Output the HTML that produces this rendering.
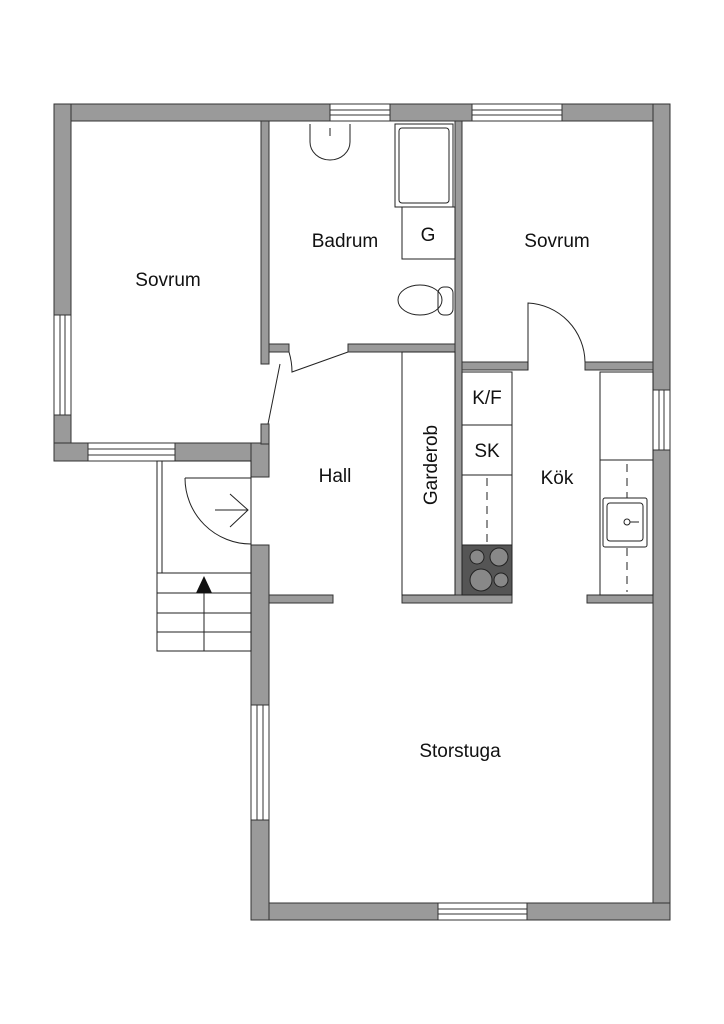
<!DOCTYPE html>
<html><head><style>body{margin:0;background:#fff}svg{display:block}text{font-family:"Liberation Sans",sans-serif;fill:#111}</style></head><body>
<svg width="724" height="1024" viewBox="0 0 724 1024" xmlns="http://www.w3.org/2000/svg">
<g fill="#9a9a9a" stroke="#333" stroke-width="1">
<!-- outer walls -->
<rect x="54" y="104" width="616" height="17"/>
<rect x="54" y="104" width="17" height="357"/>
<rect x="653" y="104" width="17" height="816"/>
<rect x="251" y="903" width="419" height="17"/>
<rect x="54" y="443" width="215" height="18"/>
<rect x="251" y="443" width="18" height="34"/>
<rect x="251" y="545" width="18" height="375"/>
<!-- interior -->
<rect x="261" y="121" width="8" height="243"/>
<rect x="261" y="424" width="8" height="20"/>
<rect x="269" y="344" width="20" height="8"/>
<rect x="348" y="344" width="107" height="8"/>
<rect x="455" y="121" width="7" height="482"/>
<rect x="462" y="362" width="66" height="8"/>
<rect x="585" y="362" width="68" height="8"/>
<rect x="269" y="595" width="64" height="8"/>
<rect x="402" y="595" width="110" height="8"/>
<rect x="587" y="595" width="66" height="8"/>
</g>
<!-- windows -->
<g fill="#fff" stroke="#333" stroke-width="1">
<rect x="330" y="104" width="60" height="17"/><line x1="330" y1="110" x2="390" y2="110"/><line x1="330" y1="115" x2="390" y2="115"/>
<rect x="472" y="104" width="90" height="17"/><line x1="472" y1="110" x2="562" y2="110"/><line x1="472" y1="115" x2="562" y2="115"/>
<rect x="54" y="315" width="17" height="100"/><line x1="60" y1="315" x2="60" y2="415"/><line x1="65" y1="315" x2="65" y2="415"/>
<rect x="88" y="443" width="87" height="18"/><line x1="88" y1="449" x2="175" y2="449"/><line x1="88" y1="455" x2="175" y2="455"/>
<rect x="653" y="390" width="17" height="60"/><line x1="659" y1="390" x2="659" y2="450"/><line x1="664" y1="390" x2="664" y2="450"/>
<rect x="251" y="705" width="18" height="115"/><line x1="257" y1="705" x2="257" y2="820"/><line x1="263" y1="705" x2="263" y2="820"/>
<rect x="438" y="903" width="89" height="17"/><line x1="438" y1="909" x2="527" y2="909"/><line x1="438" y1="914" x2="527" y2="914"/>
</g>
<g fill="none" stroke="#222" stroke-width="1">
<!-- doors -->
<path d="M280 364 L268 424"/>
<path d="M289 352 Q292 362 292 372 L348 352"/>
<path d="M528 370 L528 303 A60 60 0 0 1 585 362"/>
<path d="M185 478 L251 478 M185 478 A66 66 0 0 0 251 544"/>
<path d="M215 510 L248 510 M230 494 L248 510 L230 527"/>
<!-- stairs -->
<rect x="157" y="461" width="94" height="190"/>
<line x1="162" y1="461" x2="162" y2="573"/>
<line x1="157" y1="573" x2="251" y2="573"/>
<line x1="157" y1="593" x2="251" y2="593"/>
<line x1="157" y1="613" x2="251" y2="613"/>
<line x1="157" y1="632" x2="251" y2="632"/>
<line x1="204" y1="590" x2="204" y2="651"/>
<!-- bathroom -->
<path d="M310 124 L310 142 A20 18 0 0 0 350 142 L350 124"/>
<line x1="330" y1="128" x2="330" y2="136"/>
<rect x="395" y="124" width="58" height="83"/>
<rect x="399" y="128" width="50" height="75" rx="3"/>
<rect x="402" y="207" width="53" height="52"/>
<ellipse cx="420" cy="300" rx="22" ry="15"/>
<rect x="438" y="287" width="15" height="28" rx="6"/>
<!-- kitchen -->
<rect x="402" y="352" width="53" height="243"/>
<rect x="462" y="372" width="50" height="223"/>
<line x1="462" y1="425" x2="512" y2="425"/>
<line x1="462" y1="475" x2="512" y2="475"/>
<line x1="487" y1="478" x2="487" y2="543" stroke-dasharray="8 6"/>
<rect x="600" y="372" width="53" height="223"/>
<line x1="600" y1="460" x2="653" y2="460"/>
<line x1="627" y1="464" x2="627" y2="592" stroke-dasharray="8 6"/>
<rect x="603" y="498" width="44" height="49" rx="2" fill="#fff"/>
<rect x="607" y="503" width="36" height="38" rx="3"/>
<circle cx="627" cy="522" r="3"/><line x1="630" y1="522" x2="639" y2="522"/>
</g>
<polygon points="204,576 196,593 212,593" fill="#111"/>
<rect x="462" y="545" width="50" height="50" fill="#555" stroke="#222"/>
<g fill="#888" stroke="#222">
<circle cx="477" cy="557" r="7"/><circle cx="499" cy="557" r="9"/>
<circle cx="481" cy="580" r="11"/><circle cx="501" cy="580" r="7"/>
</g>
<text x="168" y="286" font-size="19" text-anchor="middle">Sovrum</text>
<text x="345" y="247" font-size="19" text-anchor="middle">Badrum</text>
<text x="428" y="241" font-size="19" text-anchor="middle">G</text>
<text x="557" y="247" font-size="19" text-anchor="middle">Sovrum</text>
<text x="487" y="404" font-size="19" text-anchor="middle">K/F</text>
<text x="487" y="457" font-size="19" text-anchor="middle">SK</text>
<text x="335" y="482" font-size="19" text-anchor="middle">Hall</text>
<text x="557" y="484" font-size="19" text-anchor="middle">Kök</text>
<text transform="translate(437,465) rotate(-90)" font-size="19" text-anchor="middle">Garderob</text>
<text x="460" y="757" font-size="19" text-anchor="middle">Storstuga</text>
</svg>
</body></html>
